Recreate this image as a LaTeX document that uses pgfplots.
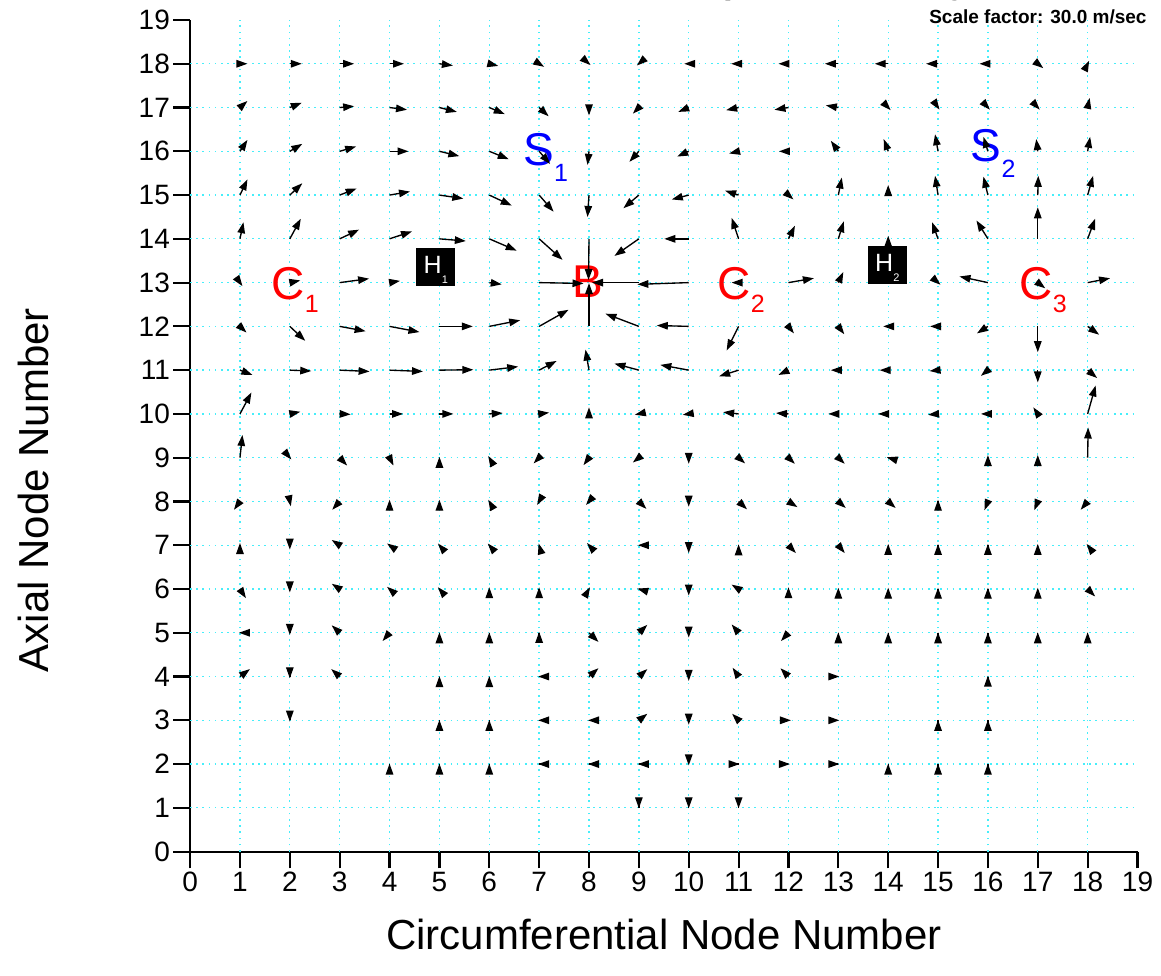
\documentclass[border=0pt]{standalone}
\usepackage{pgfplots}
\pgfplotsset{compat=1.18}
\usepackage{fontspec}
\setmainfont{Liberation Sans}
\usetikzlibrary{arrows.meta}
\definecolor{gridcyan}{RGB}{70,238,250}
\pgfplotstableread{
x y u v
1 18 .15 0
2 18 .24 0
3 18 .29 0
4 18 .29 0
5 18 .27 -.04
6 18 .18 -.05
7 18 .10 -.07
8 18 .03 -.03
9 18 -.04 -.04
10 18 -.09 0
11 18 -.15 0
12 18 -.20 0
13 18 -.27 0
14 18 -.27 0
15 18 -.24 0
16 18 -.17 0
17 18 .11 -.10
18 18 .03 .07
1 17 .15 .15
2 17 .24 .11
3 17 .29 .03
4 17 .35 -.05
5 17 .35 -.10
6 17 .31 -.15
7 17 .19 -.20
8 17 0 -.18
9 17 -.12 -.14
10 17 -.21 -.10
11 17 -.25 -.06
12 17 -.28 -.05
13 17 -.25 .05
14 17 .05 -.06
15 17 .03 -.05
16 17 .04 -.05
17 17 .04 -.05
18 17 .04 .22
1 16 .15 .26
2 16 .25 .17
3 16 .33 .11
4 16 .38 0
5 16 .40 -.11
6 16 .39 -.18
7 16 .22 -.29
8 16 -.03 -.31
9 16 -.19 -.24
10 16 -.23 -.12
11 16 -.19 -.05
12 16 -.19 0
13 16 -.15 .24
14 16 -.09 .28
15 16 -.06 .39
16 16 -.09 .33
17 16 -.03 .28
18 16 .05 .33
1 15 .15 .36
2 15 .25 .27
3 15 .34 .15
4 15 .41 .08
5 15 .48 -.08
6 15 .45 -.24
7 15 .29 -.38
8 15 -.03 -.50
9 15 -.31 -.30
10 15 -.34 -.10
11 15 -.27 .10
12 15 .10 -.10
13 15 .07 .40
14 15 0 .23
15 15 -.06 .44
16 15 -.09 .42
17 15 .01 .44
18 15 .11 .44
1 14 .07 .38
2 14 .22 .46
3 14 .39 .21
4 14 .45 .17
5 14 .53 -.05
6 14 .55 -.27
7 14 .47 -.48
8 14 -.01 -.94
9 14 -.49 -.39
10 14 -.49 0
11 14 -.14 .48
12 14 .13 .30
13 14 .11 .40
14 14 0 .07
15 14 -.12 .38
16 14 -.23 .42
17 14 0 .72
18 14 .15 .46
1 13 .05 -.08
2 13 .21 .05
3 13 .59 .09
4 13 .21 .04
6 13 .25 -.04
7 13 .89 -.02
9 13 -.94 0
10 13 -1.03 -.04
11 13 -.14 0
12 13 .51 .10
13 13 .10 .24
15 13 .05 -.05
16 13 -.57 .14
17 13 .15 -.13
18 13 .45 .10
1 12 .13 -.14
2 12 .31 -.33
3 12 .52 -.11
4 12 .60 -.13
5 12 .67 0
6 12 .62 .14
7 12 .59 .38
8 12 0 .99
9 12 -.67 .29
10 12 -.64 .02
11 12 -.24 -.55
12 12 .11 -.16
13 12 .12 -.18
14 12 -.10 0
15 12 -.16 0
16 12 -.22 -.16
17 12 0 -.59
18 12 .23 -.19
1 11 .25 -.11
2 11 .43 -.02
3 11 .60 -.03
4 11 .67 -.03
5 11 .68 .01
6 11 .58 .08
7 11 .35 .21
8 11 -.07 .47
9 11 -.49 .15
10 11 -.57 .12
11 11 -.39 -.14
12 11 -.20 -.11
13 11 -.15 0
14 11 -.17 0
15 11 -.17 -.02
16 11 -.14 -.13
17 11 0 -.28
18 11 .19 -.18
1 10 .23 .49
2 10 .21 .05
3 10 .22 -.01
4 10 .27 0
5 10 .28 0
6 10 .27 .02
7 10 .20 .03
8 10 0 .15
9 10 -.08 -.02
10 10 -.12 -.02
11 10 -.31 .04
12 10 -.25 .02
13 10 -.20 0
14 10 -.20 0
15 10 -.20 -.02
16 10 -.14 0
17 10 -.09 .15
18 10 .16 .65
1 9 .05 .52
2 9 .03 -.04
3 9 .15 -.18
4 9 .08 -.18
5 9 0 .02
6 9 -.02 .04
7 9 -.11 -.13
8 9 -.11 -.17
9 9 -.12 -.11
10 9 0 -.14
11 9 .13 -.13
12 9 .13 -.14
13 9 .13 -.14
14 9 -.03 .01
16 9 0 .06
17 9 0 .06
18 9 .01 .69
1 8 -.12 -.19
2 8 .02 -.11
3 8 -.15 -.19
4 8 0 .04
5 8 0 .04
6 8 -.02 .04
7 8 -.04 -.08
8 8 -.06 -.08
9 8 .15 -.17
10 8 0 -.12
11 8 .17 -.18
12 8 .18 -.13
13 8 .15 -.15
14 8 .15 -.15
15 8 0 .04
16 8 -.07 -.20
17 8 -.07 -.20
18 8 -.14 -.19
1 7 0 .05
2 7 0 -.10
3 7 -.16 .12
4 7 -.05 .04
5 7 -.03 .04
6 7 -.03 .04
7 7 -.01 .04
8 7 -.04 .05
9 7 -.02 0
10 7 0 -.18
11 7 0 .02
12 7 .15 -.18
13 7 .13 -.18
14 7 0 .03
15 7 0 .03
16 7 0 .03
17 7 0 .03
18 7 -.02 .03
1 6 .12 -.21
2 6 0 -.08
3 6 -.16 .12
4 6 -.05 .05
5 6 -.03 .04
6 6 0 .04
7 6 0 .04
8 6 .02 .04
9 6 -.03 .01
10 6 0 -.15
11 6 -.14 .10
12 6 0 .04
13 6 0 .03
14 6 0 .03
15 6 0 .03
16 6 0 .03
17 6 0 .03
18 6 .15 -.17
1 5 -.02 0
2 5 0 -.05
3 5 -.16 .17
4 5 -.14 -.19
5 5 0 .01
6 5 0 .01
7 5 0 .02
8 5 .19 -.21
9 5 .17 .18
10 5 0 -.11
11 5 -.14 .19
12 5 -.15 -.19
13 5 0 .01
14 5 0 .01
15 5 0 .01
16 5 0 .01
17 5 0 .01
18 5 0 .01
1 4 .20 .17
2 4 0 -.04
3 4 -.17 .17
5 4 0 .01
6 4 0 .01
7 4 -.02 0
8 4 .19 .19
9 4 .17 .17
10 4 0 -.10
11 4 -.12 .20
12 4 -.16 .19
13 4 .02 0
16 4 0 .02
2 3 0 -.03
5 3 0 .01
6 3 0 .01
7 3 -.02 0
8 3 -.02 0
9 3 .17 .15
10 3 0 -.10
11 3 -.13 .15
12 3 .05 0
13 3 .02 0
15 3 0 .01
16 3 0 .01
4 2 0 .01
5 2 0 .01
6 2 0 .01
7 2 -.02 0
8 2 -.02 0
9 2 -.02 0
10 2 0 -.03
11 2 .02 0
12 2 .03 0
13 2 .02 0
14 2 0 .01
15 2 0 .01
16 2 0 .01
9 1 0 -.01
10 1 0 -.01
11 1 0 -.01
}\velocity
\begin{document}
\begin{tikzpicture}[x=1pt,y=1pt,
  lbl/.style={anchor=base west, inner sep=0pt, font=\fontsize{46}{46}\selectfont}]
\begin{axis}[
  at={(0,0)}, anchor=south west,
  scale only axis, width=947.4pt, height=831.6pt,
  xmin=0, xmax=19, ymin=0, ymax=19,
  axis lines=left,
  axis line style={-, line width=2.2pt},
  xtick={0,...,19}, ytick={0,...,19},
  tick align=outside, major tick length=16.7pt,
  tick style={line width=2.2pt, black},
  every tick label/.append style={font=\fontsize{28}{30}\selectfont},
  /pgf/number format/assume math mode=true,
  extra x ticks={1,...,18}, extra y ticks={1,...,18},
  extra tick style={grid=major, major tick length=0pt, xticklabel={}, yticklabel={}},
  major grid style={gridcyan, line width=1.3pt, dash pattern=on 1.6pt off 4.6pt},
  xlabel={Circumferential Node Number},
  ylabel={Axial Node Number},
  every axis x label/.style={at={(axis description cs:0.5,-0.1178)}, anchor=base, font=\fontsize{42}{42}\selectfont},
  every axis y label/.style={at={(axis description cs:-0.1499,0.4348)}, anchor=base, rotate=90, font=\fontsize{42}{42}\selectfont},
  clip=false,
]
% labels: letter with subscript in one node
\node[lbl, text=red] at (axis cs:1.631,12.625) {C\raisebox{-13pt}{\fontsize{25}{25}\selectfont 1}};
\node[anchor=base, inner sep=0pt, text=red, font=\fontsize{46}{46}\selectfont] at (axis cs:7.970,12.671) {B};
\node[lbl, text=red] at (axis cs:10.576,12.625) {C\raisebox{-13pt}{\fontsize{25}{25}\selectfont 2}};
\node[lbl, text=red] at (axis cs:16.633,12.625) {C\raisebox{-13pt}{\fontsize{25}{25}\selectfont 3}};
\node[lbl, text=blue] at (axis cs:6.68,15.666) {S\raisebox{-16pt}{\fontsize{25}{25}\selectfont 1}};
\node[lbl, text=blue] at (axis cs:15.656,15.757) {S\raisebox{-16pt}{\fontsize{25}{25}\selectfont 2}};
% vectors
\addplot[black, line width=1.35pt, -{Triangle[length=11pt,width=7.5pt]},
  quiver={u=\thisrow{u}, v=\thisrow{v}}] table[x=x, y=y] {\velocity};
% H boxes
\node[fill=black, minimum width=39pt, minimum height=38pt, inner sep=0pt] at (axis cs:4.922,13.356) {};
\node[anchor=base west, inner sep=0pt, text=white, font=\fontsize{25}{25}\selectfont] at (axis cs:4.681,13.219) {H\raisebox{-10pt}{\fontsize{11}{11}\selectfont 1}};
\node[fill=black, minimum width=39pt, minimum height=38pt, inner sep=0pt] at (axis cs:13.977,13.391) {};
\node[anchor=base west, inner sep=0pt, text=white, font=\fontsize{25}{25}\selectfont] at (axis cs:13.736,13.253) {H\raisebox{-10pt}{\fontsize{11}{11}\selectfont 2}};
% annotations
\node[anchor=base east, font=\bfseries\fontsize{19}{19}\selectfont] at (axis cs:19.252,18.931) {Scale factor: 30.0 m/sec};
\node[anchor=base west, font=\bfseries\fontsize{35}{35}\selectfont] at (axis cs:8.281,19.60) {Vector plot of velocity};
\end{axis}
\pgfresetboundingbox
\path[use as bounding box] (-190.1pt,-123.4pt) rectangle (970.9pt,851.6pt);
\end{tikzpicture}
\end{document}
